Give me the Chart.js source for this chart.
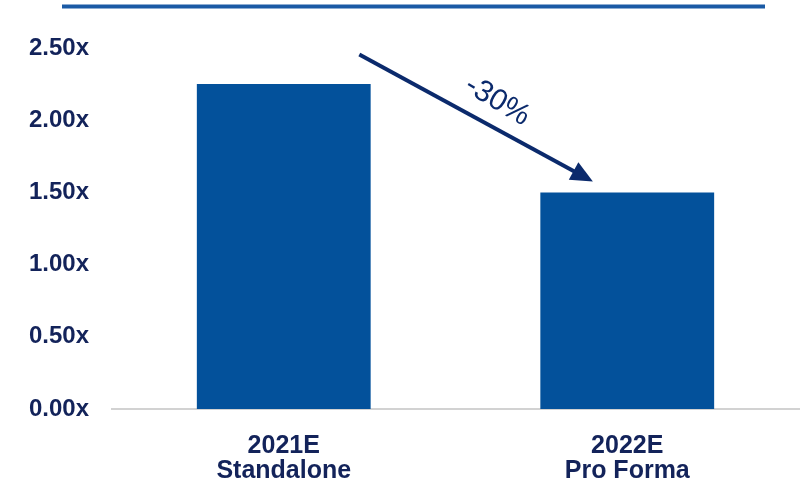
<!DOCTYPE html>
<html>
<head>
<meta charset="utf-8">
<script src="https://cdn.jsdelivr.net/npm/chart.js@4.4.0/dist/chart.umd.min.js"></script>
<style>
  html, body { margin: 0; padding: 0; background: #ffffff; }
  #wrap { width: 801px; height: 484px; position: relative; }
</style>
</head>
<body>
<div id="wrap"><canvas id="my-chart" width="801" height="484"></canvas></div>
<script>
/* Leverage multiple, standalone vs pro forma */
const categories = [['2021E', 'Standalone'], ['2022E', 'Pro Forma']]
const leverage = [2.25, 1.50]
const yTicks = [0, 0.5, 1.0, 1.5, 2.0, 2.5]
const changeLabel = '-30%'

const navy = '#13235a'
const barBlue = '#03519b'

// top rule + arrow with the change label
const decorations = {
  id: 'decorations',
  afterDraw(chart) {
    const ctx = chart.ctx
    const x = chart.scales.x
    const y = chart.scales.y

    ctx.save()
    ctx.strokeStyle = '#1a5aa5'
    ctx.lineWidth = 4
    ctx.beginPath()
    ctx.moveTo(62, 6.5)
    ctx.lineTo(765, 6.5)
    ctx.stroke()

    const x0 = x.getPixelForValue(0.22)
    const y0 = y.getPixelForValue(2.455)
    const x1 = x.getPixelForValue(0.9)
    const y1 = y.getPixelForValue(1.575)
    const ang = Math.atan2(y1 - y0, x1 - x0)
    const head = 22
    const half = 10
    const bx = x1 - head * Math.cos(ang)
    const by = y1 - head * Math.sin(ang)

    ctx.strokeStyle = '#0b2a6c'
    ctx.fillStyle = '#0b2a6c'
    ctx.lineWidth = 4
    ctx.beginPath()
    ctx.moveTo(x0, y0)
    ctx.lineTo(bx + 2 * Math.cos(ang), by + 2 * Math.sin(ang))
    ctx.stroke()
    ctx.beginPath()
    ctx.moveTo(x1, y1)
    ctx.lineTo(bx + half * Math.sin(ang), by - half * Math.cos(ang))
    ctx.lineTo(bx - half * Math.sin(ang), by + half * Math.cos(ang))
    ctx.closePath()
    ctx.fill()

    const t = 0.54
    const cx = x0 + (x1 - x0) * t + 25 * Math.sin(ang)
    const cy = y0 + (y1 - y0) * t - 25 * Math.cos(ang)
    ctx.translate(cx, cy)
    ctx.rotate(ang + 0.04)
    ctx.font = '30px "Liberation Sans", Arial, sans-serif'
    ctx.textAlign = 'center'
    ctx.textBaseline = 'middle'
    ctx.fillText(changeLabel, 0, 0)
    ctx.restore()
  }
}

const chart = new Chart(document.getElementById('my-chart').getContext('2d'), {
  type: 'bar',
  data: {
    labels: categories,
    datasets: [
      {
        label: 'Leverage',
        data: leverage,
        backgroundColor: barBlue,
        barPercentage: 0.506,
        categoryPercentage: 1.0
      }
    ]
  },
  options: {
    responsive: false,
    animation: false,
    layout: { padding: { top: 48, right: 2, left: 0, bottom: 0 } },
    plugins: {
      legend: { display: false },
      tooltip: { enabled: false }
    },
    scales: {
      x: {
        grid: { display: false },
        border: { display: true, color: '#d2d2d2', width: 2 },
        ticks: {
          color: navy,
          padding: 17,
          maxRotation: 0,
          font: { family: '"Liberation Sans", Arial, sans-serif', size: 25, weight: 'bold', lineHeight: 1.0 }
        },
        afterFit(scale) { scale.height = 75 }
      },
      y: {
        min: 0,
        max: 2.5,
        grid: { display: false },
        border: { display: false },
        afterBuildTicks(scale) { scale.ticks = yTicks.map(v => ({ value: v })) },
        ticks: {
          color: navy,
          padding: 15,
          callback: v => Number(v).toFixed(2) + 'x',
          font: { family: '"Liberation Sans", Arial, sans-serif', size: 24, weight: 'bold' }
        },
        afterFit(scale) { scale.width = 112 }
      }
    }
  },
  plugins: [decorations]
})
</script>
</body>
</html>
